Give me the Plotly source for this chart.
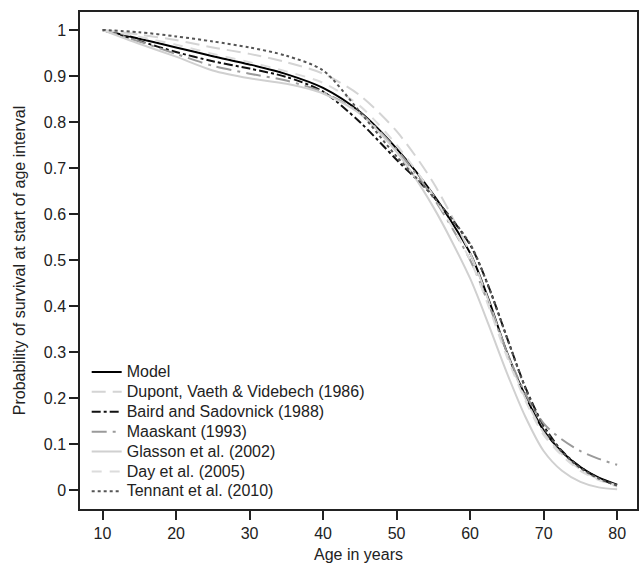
import plotly.graph_objects as go

ages = [10, 15, 20, 25, 30, 35, 40, 45, 50, 55, 60, 62.5, 65, 67.5, 70, 72.5, 75, 77.5, 80]

model = [1.0, 0.981, 0.962, 0.943, 0.925, 0.904, 0.874, 0.822, 0.742, 0.642, 0.515, 0.415, 0.300, 0.205, 0.130, 0.083, 0.050, 0.027, 0.012]
dupont = [1.0, 0.990, 0.978, 0.962, 0.948, 0.930, 0.905, 0.858, 0.780, 0.668, 0.515, 0.412, 0.298, 0.200, 0.125, 0.078, 0.045, 0.024, 0.010]
baird = [1.0, 0.976, 0.952, 0.932, 0.916, 0.898, 0.866, 0.800, 0.718, 0.638, 0.533, 0.443, 0.332, 0.224, 0.140, 0.085, 0.050, 0.026, 0.010]
maaskant = [1.0, 0.975, 0.948, 0.922, 0.905, 0.890, 0.865, 0.820, 0.740, 0.635, 0.500, 0.405, 0.300, 0.210, 0.145, 0.110, 0.085, 0.068, 0.055]
glasson = [1.0, 0.970, 0.942, 0.912, 0.895, 0.883, 0.862, 0.818, 0.735, 0.615, 0.460, 0.360, 0.255, 0.160, 0.085, 0.042, 0.018, 0.006, 0.002]
day = [1.0, 0.985, 0.968, 0.948, 0.930, 0.910, 0.885, 0.835, 0.750, 0.640, 0.500, 0.400, 0.290, 0.195, 0.120, 0.075, 0.042, 0.022, 0.008]
tennant = [1.0, 0.995, 0.986, 0.975, 0.962, 0.944, 0.912, 0.822, 0.725, 0.638, 0.535, 0.442, 0.332, 0.222, 0.136, 0.083, 0.048, 0.025, 0.010]

series_names = ["Model", "Dupont, Vaeth & Videbech (1986)", "Baird and Sadovnick (1988)",
                "Maaskant (1993)", "Glasson et al. (2002)", "Day et al. (2005)", "Tennant et al. (2010)"]
series_values = [model, dupont, baird, maaskant, glasson, day, tennant]

x_ticks = [10, 20, 30, 40, 50, 60, 70, 80]
y_ticks = [0, 0.1, 0.2, 0.3, 0.4, 0.5, 0.6, 0.7, 0.8, 0.9, 1]
y_tick_text = ["0", "0.1", "0.2", "0.3", "0.4", "0.5", "0.6", "0.7", "0.8", "0.9", "1"]

styles = [
    dict(color="#000000", width=2, dash="solid"),
    dict(color="#d4d4d4", width=2, dash="14px,7px"),
    dict(color="#111111", width=2, dash="dashdot"),
    dict(color="#9a9a9a", width=2, dash="longdashdot"),
    dict(color="#d0d0d0", width=2, dash="solid"),
    dict(color="#dcdcdc", width=2, dash="10px,8px"),
    dict(color="#555555", width=2, dash="dot"),
]

fig = go.Figure()
for name, vals, st in zip(series_names, series_values, styles):
    fig.add_trace(go.Scatter(x=ages, y=vals, mode="lines",
                             name='<span style="font-size:16px">' + name + '</span>',
                             hovertemplate=name + ": %{y}<extra></extra>",
                             line=dict(shape="spline", smoothing=0.8, **st)))

font_family = "Liberation Sans, Arial, sans-serif"
fig.update_layout(
    width=640, height=568,
    margin=dict(l=80, r=3, t=12, b=59, autoexpand=False),
    paper_bgcolor="white", plot_bgcolor="white",
    font=dict(family=font_family, size=16, color="#222222"),
    showlegend=True,
    legend=dict(x=0.012, y=0.004, xanchor="left", yanchor="bottom",
                bgcolor="rgba(0,0,0,0)", font=dict(size=13, color="#222222"),
                tracegroupgap=0, itemwidth=30),
    xaxis=dict(range=[6.94, 82.7], tickvals=x_ticks, ticks="outside", ticklen=9,
               tickwidth=1.5, tickcolor="#222222", showline=True, linecolor="#222222",
               linewidth=1.5, mirror=True, showgrid=False, zeroline=False,
               tickfont=dict(size=16),
               title=dict(text="Age in years", standoff=8, font=dict(size=16))),
    yaxis=dict(range=[-0.041, 1.039], tickvals=y_ticks, ticktext=y_tick_text,
               ticks="outside", ticklen=9, tickwidth=1.5, tickcolor="#222222",
               showline=True, linecolor="#222222", linewidth=1.5, mirror=True,
               showgrid=False, zeroline=False, tickfont=dict(size=16),
               title=dict(text="Probability of survival at start of age interval",
                          standoff=14, font=dict(size=16))),
)

fig.write_html("out.html", config={"displayModeBar": False},
               post_script="document.body.style.margin='0';")
